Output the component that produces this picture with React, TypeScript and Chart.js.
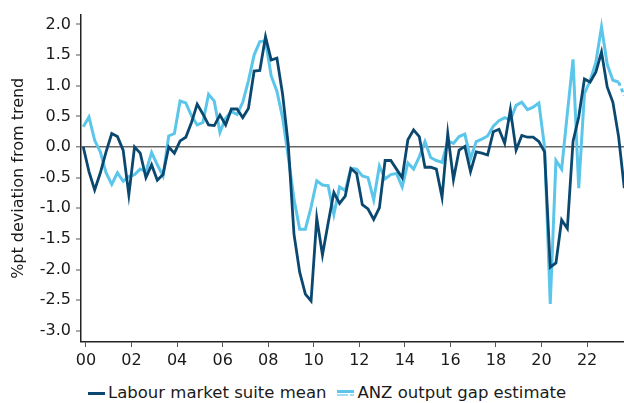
import React, { useEffect, useRef } from 'react';
import { Chart, registerables } from 'chart.js';

Chart.register(...registerables);

// Quarterly periods 2000Q1 .. 2023Q4
const periods: string[] = Array.from({ length: 96 }, (_, i) => `${2000 + Math.floor(i / 4)}Q${(i % 4) + 1}`);

const labourMarketSuiteMean: number[] = [
  0.0, -0.4, -0.7, -0.42, -0.08, 0.22, 0.17, -0.05,
  -0.78, 0.0, -0.1, -0.5, -0.29, -0.54, -0.45, 0.0,
  -0.1, 0.1, 0.16, 0.4, 0.7, 0.54, 0.36, 0.35,
  0.52, 0.36, 0.62, 0.62, 0.48, 0.63, 1.24, 1.25,
  1.8, 1.42, 1.45, 0.86, 0.03, -1.42, -2.04, -2.4,
  -2.51, -1.16, -1.76, -1.24, -0.74, -0.92, -0.8, -0.35,
  -0.43, -0.94, -1.01, -1.18, -0.99, -0.22, -0.22, -0.36,
  -0.5, 0.12, 0.28, 0.17, -0.33, -0.33, -0.36, -0.82,
  0.22, -0.53, -0.05, 0.01, -0.4, -0.08, -0.1, -0.13,
  0.25, 0.29, 0.06, 0.61, -0.05, 0.19, 0.16, 0.16,
  0.09, -0.08, -1.96, -1.89, -1.19, -1.33, 0.09, 0.49,
  1.11, 1.06, 1.22, 1.55, 0.98, 0.73, 0.17, -0.67,
];

const anzOutputGapEstimate: number[] = [
  0.33, 0.49, 0.11, -0.08, -0.42, -0.61, -0.42, -0.56,
  -0.48, -0.45, -0.36, -0.4, -0.09, -0.29, -0.47, 0.18,
  0.22, 0.75, 0.72, 0.51, 0.36, 0.4, 0.86, 0.75,
  0.24, 0.47, 0.58, 0.53, 0.73, 1.08, 1.5, 1.72,
  1.73, 1.16, 0.91, 0.48, -0.16, -0.85, -1.34, -1.34,
  -0.98, -0.55, -0.62, -0.63, -1.1, -0.65, -0.71, -0.35,
  -0.36, -0.47, -0.5, -0.86, -0.31, -0.52, -0.45, -0.43,
  -0.65, -0.26, -0.36, -0.16, 0.09, -0.17, -0.22, -0.25,
  0.1, 0.06, 0.17, 0.21, -0.19, 0.09, 0.13, 0.18,
  0.34, 0.43, 0.48, 0.44, 0.68, 0.73, 0.61, 0.65,
  0.72, 0.0, -2.56, -0.22, -0.36, 0.55, 1.43, -0.67,
  0.87, 1.08, 1.38, 1.96, 1.35, 1.09, 1.06, 0.84,
];

// index from which the ANZ estimate is a projection (dashed)
const anzProjectionFrom = 94;

const xTickYears: number[] = [2000, 2002, 2004, 2006, 2008, 2010, 2012, 2014, 2016, 2018, 2020, 2022];
const xTickLabels: string[] = ['00', '02', '04', '06', '08', '10', '12', '14', '16', '18', '20', '22'];
const yTickValues: number[] = [-3.0, -2.5, -2.0, -1.5, -1.0, -0.5, 0.0, 0.5, 1.0, 1.5, 2.0];

const DARK = '#0B4870';
const LIGHT = '#5BC6EA';
const LIGHT2 = '#9FDDF3';
const FONT = "'DejaVu Sans', Verdana, sans-serif";
const TEXT = '#1a1a1a';

export default function App() {
  const ref = useRef<HTMLCanvasElement>(null);

  useEffect(() => {
    const canvas = ref.current!;
    const chart = new Chart(canvas, {
      type: 'line',
      data: {
        labels: periods,
        datasets: [
          {
            label: 'Labour market suite mean',
            data: labourMarketSuiteMean.map((v, i) => ({ x: i, y: v })),
            borderColor: DARK,
            backgroundColor: DARK,
            borderWidth: 2.8,
            pointRadius: 0,
            tension: 0,
          },
          {
            label: 'ANZ output gap estimate',
            data: anzOutputGapEstimate.map((v, i) => ({ x: i, y: v })),
            borderColor: LIGHT,
            backgroundColor: LIGHT,
            borderWidth: 3,
            pointRadius: 0,
            tension: 0,
            segment: {
              borderDash: (ctx: any) => (ctx.p0DataIndex >= anzProjectionFrom ? [4, 3] : undefined),
            },
          },
        ],
      },
      options: {
        animation: false,
        responsive: false,
        devicePixelRatio: 1,
        layout: { padding: { top: 12, left: 0, right: 0, bottom: 0 } },
        plugins: {
          legend: { display: false },
          tooltip: { enabled: false },
        },
        scales: {
          x: {
            type: 'linear',
            min: -0.4,
            max: 94.95,
            afterBuildTicks: (s: any) => {
              s.ticks = xTickYears.map((y) => ({ value: (y - 2000) * 4 + 0.47 }));
            },
            afterFit: (s: any) => {
              s.height = 30;
            },
            ticks: {
              autoSkip: false,
              maxRotation: 0,
              padding: 4,
              color: TEXT,
              font: { family: FONT, size: 16 },
              callback: (_v: any, idx: number) => xTickLabels[idx],
            },
            grid: {
              display: true,
              drawOnChartArea: false,
              drawTicks: true,
              tickLength: 5,
              tickColor: '#555',
              tickWidth: 1,
            },
            border: { display: true, color: '#222', width: 1.5 },
          },
          y: {
            type: 'linear',
            min: -3.18,
            max: 2.16,
            afterBuildTicks: (s: any) => {
              s.ticks = yTickValues.map((v) => ({ value: v }));
            },
            afterFit: (s: any) => {
              s.width = 81;
            },
            title: {
              display: true,
              text: '%pt deviation from trend',
              color: TEXT,
              font: { family: FONT, size: 16 },
              padding: { top: 9, bottom: 0 },
            },
            ticks: {
              padding: 5,
              color: TEXT,
              font: { family: FONT, size: 16 },
              callback: (v: any) => Number(v).toFixed(1),
            },
            grid: {
              display: true,
              drawOnChartArea: true,
              drawTicks: true,
              tickLength: 5,
              tickColor: '#555',
              tickWidth: 1,
              color: (ctx: any) => (ctx.tick && ctx.tick.value === 0 ? '#666666' : 'rgba(0,0,0,0)'),
              lineWidth: (ctx: any) => (ctx.tick && ctx.tick.value === 0 ? 1.6 : 0),
            },
            border: { display: true, color: '#222', width: 1.5 },
          },
        },
      },
    });
    return () => chart.destroy();
  }, []);

  const itemText: React.CSSProperties = {
    fontFamily: FONT,
    fontSize: 16.5,
    color: TEXT,
    lineHeight: '20px',
    whiteSpace: 'nowrap',
  };

  return (
    <div style={{ position: 'absolute', left: 0, top: 0, width: 624, height: 403, overflow: 'hidden', background: '#fff' }}>
      <canvas ref={ref} width={624} height={372} style={{ position: 'absolute', left: 0, top: 0, width: 624, height: 372 }} />
      <div style={{ position: 'absolute', left: 88, top: 383, display: 'flex', alignItems: 'center' }}>
        <div style={{ width: 17, height: 3, background: DARK, marginRight: 3 }} />
        <span style={itemText}>Labour market suite mean</span>
        <div style={{ width: 17, marginLeft: 11, marginRight: 3, display: 'flex', flexDirection: 'column', gap: 1 }}>
          <div style={{ height: 3, background: LIGHT }} />
          <div
            style={{
              height: 2,
              background: `linear-gradient(to right, ${LIGHT2} 0 11px, transparent 11px 13px, ${LIGHT2} 13px 17px)`,
            }}
          />
        </div>
        <span style={itemText}>ANZ output gap estimate</span>
      </div>
    </div>
  );
}
